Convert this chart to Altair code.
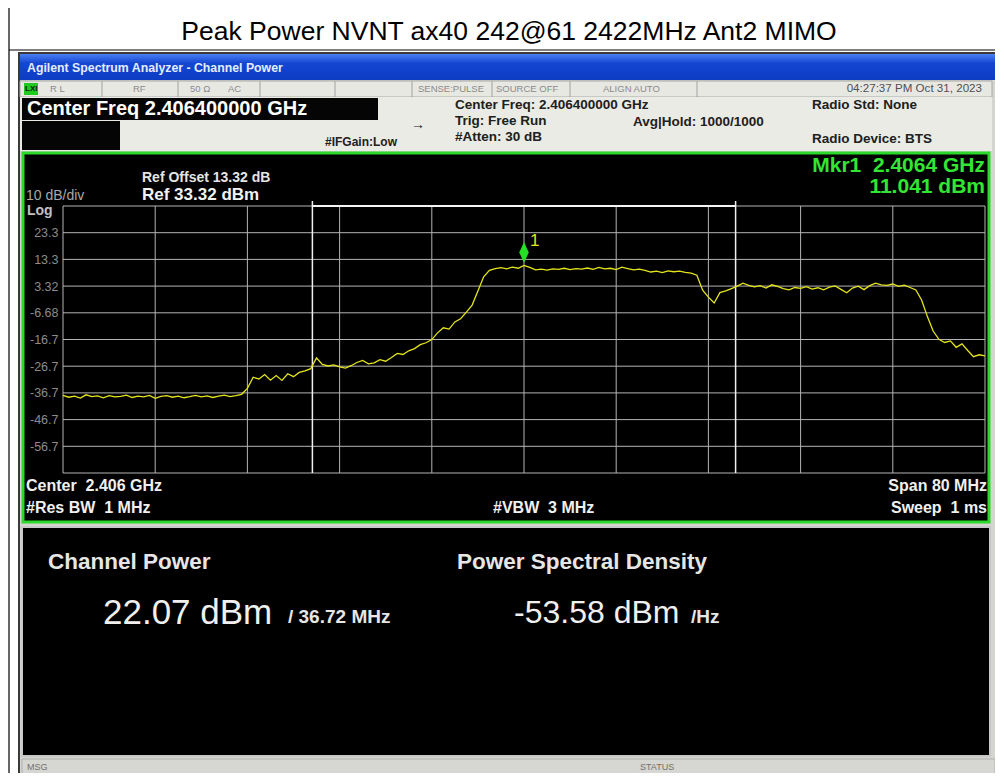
import altair as alt
import pandas as pd

FONT = "Liberation Sans"
NB = "\u00a0"

# ---------------- data ----------------
TITLE = "Peak Power NVNT ax40 242@61 2422MHz Ant2 MIMO"

Y_TICKS = [23.32, 13.32, 3.32, -6.68, -16.68, -26.68, -36.68, -46.68, -56.68]
Y_TICK_LABELS = ["23.3", "13.3", "3.32", "-6.68", "-16.7", "-26.7", "-36.7", "-46.7", "-56.7"]
Y_TOP, Y_BOTTOM = 33.32, -66.68
GRID_DB = [Y_TOP] + Y_TICKS + [Y_BOTTOM]
GRID_MHZ = [-40, -32, -24, -16, -8, 0, 8, 16, 24, 32, 40]

# sweep points: offset from centre (MHz), 0.5 MHz apart
FREQ_MHZ = [i * 0.5 - 40 for i in range(161)]
TRACE_DBM = [
    -37.6, -38.3, -37.9, -38.6, -37.4, -38.1, -37.8, -38.5, -37.7, -38.2,
    -38.0, -37.5, -38.4, -37.9, -38.2, -37.6, -38.7, -38.0, -37.7, -38.3,
    -37.9, -38.5, -38.1, -37.6, -38.2, -37.8, -38.4, -37.9, -37.5, -38.1,
    -37.7, -37.2, -35.0, -30.8, -31.5, -29.8, -31.9, -30.2, -32.0, -29.5,
    -30.6, -29.0, -28.4, -27.6, -23.6, -26.0, -26.6, -26.2, -26.9, -27.4,
    -26.5, -25.3, -24.5, -25.8, -25.4, -24.2, -24.8, -23.4, -21.9, -22.3,
    -20.9, -20.1, -18.6, -17.9, -16.7, -14.2, -12.3, -12.8, -10.1, -8.9,
    -6.4, -3.8, 1.5, 6.8, 9.2, 9.9, 10.2, 9.8, 10.4, 10.0,
    11.04, 10.3, 9.4, 9.7, 9.3, 9.8, 9.6, 10.0, 9.5, 9.9,
    9.7, 10.1, 9.6, 10.3, 9.8, 10.0, 9.5, 10.4, 9.9, 9.4,
    9.7, 9.2, 8.6, 8.9, 8.4, 9.0, 8.7, 8.9, 8.5, 8.2,
    7.4, 1.8, -0.8, -3.0, 0.9, 1.5, 2.4, 3.3, 4.4, 3.6,
    3.0, 3.5, 2.6, 3.8, 3.2, 2.4, 1.9, 2.8, 2.5, 3.1,
    2.2, 2.7, 1.9, 2.9, 3.4, 2.1, 0.8, 2.6, 3.3, 2.0,
    3.5, 4.4, 3.8, 3.6, 4.1, 3.2, 3.7, 2.8, 1.9, -1.9,
    -8.1, -13.5, -16.6, -17.8, -17.2, -19.6, -18.3, -20.8, -23.1, -22.4,
    -22.8,
]
CH_BW_MHZ = 36.72
MKR_MHZ = [0.0]
MKR_DBM = [11.041]

# ---------------- layout helpers ----------------
PX0, PY0 = 63, 206          # plot-area origin on the page
PW, PH = 922, 267           # plot-area size
ONE = pd.DataFrame({"k": [0]})


def X(px):
    return px - PX0


def Y(py):
    return py - PY0


def rect(x1, y1, x2, y2, **kw):
    return alt.Chart(ONE).mark_rect(**kw).encode(
        x=alt.value(X(x1)), x2=alt.value(X(x2)),
        y=alt.value(Y(y1)), y2=alt.value(Y(y2)))


def line(x1, y1, x2, y2, color, width=1):
    return alt.Chart(ONE).mark_rule(color=color, strokeWidth=width).encode(
        x=alt.value(X(x1)), x2=alt.value(X(x2)),
        y=alt.value(Y(y1)), y2=alt.value(Y(y2)))


def text(s, px, py, size, color, weight="normal", align="left", font=FONT):
    return alt.Chart(ONE).mark_text(
        text=s, fontSize=size, color=color, fontWeight=weight,
        align=align, baseline="middle", font=font).encode(
        x=alt.value(X(px)), y=alt.value(Y(py)))


layers = []

# document frame and title
layers.append(line(9, 8, 9, 783, "#000000", 1.2))
layers.append(line(9, 50, 996, 50, "#000000", 1.2))
layers.append(text(TITLE, 509, 32, 26.5, "#000000", align="center"))

# screenshot frame
layers.append(rect(19, 53, 998, 783, fill="#d4d4d0", stroke="#3a3a3a", strokeWidth=2))
blue = alt.Gradient(gradient="linear", x1=0, x2=0, y1=0, y2=1,
                    stops=[alt.GradientStop(color="#4a7ff2", offset=0),
                           alt.GradientStop(color="#1446d2", offset=0.35),
                           alt.GradientStop(color="#0d3cc4", offset=1)])
layers.append(rect(20, 54, 997, 80, fill=blue))
layers.append(text("Agilent Spectrum Analyzer - Channel Power", 27, 68, 12.3, "#e6ecff", "bold"))

# toolbar
layers.append(rect(20, 81, 992, 97, fill="#e8e8e3", stroke="#a8a8a8", strokeWidth=1))
for dx in [102, 178, 260, 335, 412, 492, 570, 697]:
    layers.append(line(dx, 81, dx, 97, "#a0a0a0", 1))
layers.append(rect(24, 83, 38, 95, fill="#22c822"))
layers.append(text("LXI", 25, 89, 8, "#102010", "bold"))
for s, px in [("R L", 50), ("RF", 133), ("50 Ω", 190), ("AC", 228),
              ("SENSE:PULSE", 418), ("SOURCE OFF", 496), ("ALIGN AUTO", 603)]:
    layers.append(text(s, px, 89, 9.5, "#8a8a8a"))
layers.append(text("04:27:37 PM Oct 31, 2023", 982, 89, 11.6, "#505050", align="right"))

# info area
layers.append(rect(20, 97, 992, 151, fill="#ebebe5"))
layers.append(rect(22, 98, 378, 120, fill="#050505"))
layers.append(rect(22, 121, 120, 150, fill="#050505"))
layers.append(text("Center Freq 2.406400000 GHz", 27, 109, 20, "#ffffff", "bold"))
layers.append(text("#IFGain:Low", 325, 142, 12, "#202020", "bold"))
layers.append(text("→", 411, 125, 14, "#202020"))
layers.append(text("Center Freq: 2.406400000 GHz", 455, 105, 13.5, "#202020", "bold"))
layers.append(text("Trig: Free Run", 455, 121, 13.5, "#202020", "bold"))
layers.append(text("#Atten: 30 dB", 455, 137, 13.5, "#202020", "bold"))
layers.append(text("Avg|Hold: 1000/1000", 633, 122, 13.5, "#202020", "bold"))
layers.append(text("Radio Std: None", 812, 105, 13.5, "#202020", "bold"))
layers.append(text("Radio Device: BTS", 812, 139, 13.5, "#202020", "bold"))

# graph area
layers.append(rect(23, 153, 989, 522, fill="#000000", stroke="#2bd82b", strokeWidth=3))

xs = alt.Scale(domain=[-40, 40], nice=False, zero=False)
ys = alt.Scale(domain=[Y_BOTTOM, Y_TOP], nice=False, zero=False)

label_expr = " : ".join(
    f"datum.value > {v - 1} ? '{lab}'" for v, lab in zip(Y_TICKS, Y_TICK_LABELS)) + " : ''"
yaxis = alt.Axis(values=Y_TICKS, labelExpr=label_expr, grid=False, ticks=False, domain=False,
                 labelColor="#8c8c8c", labelFontSize=12.5, labelFont=FONT, labelPadding=5,
                 title=None, zindex=1)

grid_y = alt.Chart(pd.DataFrame({"dbm": GRID_DB})).mark_rule(color="#b4b4b4", strokeWidth=1).encode(
    y=alt.Y("dbm:Q", scale=ys, axis=yaxis))
grid_x = alt.Chart(pd.DataFrame({"f": GRID_MHZ})).mark_rule(color="#b4b4b4", strokeWidth=1).encode(
    x=alt.X("f:Q", scale=xs, axis=None))
layers += [grid_y, grid_x]

bw = pd.DataFrame({"f": [-CH_BW_MHZ / 2, CH_BW_MHZ / 2]})
layers.append(alt.Chart(bw).mark_rule(color="#f0f0f0", strokeWidth=1.5).encode(
    x=alt.X("f:Q", scale=xs, axis=None), y=alt.value(-5), y2=alt.value(PH)))
bw_top = pd.DataFrame({"f1": [-CH_BW_MHZ / 2], "f2": [CH_BW_MHZ / 2]})
layers.append(alt.Chart(bw_top).mark_rule(color="#f4f4f4", strokeWidth=2).encode(
    x=alt.X("f1:Q", scale=xs, axis=None), x2="f2:Q", y=alt.value(0)))

trace = alt.Chart(pd.DataFrame({"f": FREQ_MHZ, "dbm": TRACE_DBM})).mark_line(
    color="#e4e41a", strokeWidth=1.3).encode(
    x=alt.X("f:Q", scale=xs, axis=None),
    y=alt.Y("dbm:Q", scale=ys, axis=yaxis))
layers.append(trace)

mk = pd.DataFrame({"f": MKR_MHZ, "dbm": MKR_DBM})
layers.append(alt.Chart(mk).mark_point(
    shape="M0,-1L0.45,0L0,1L-0.45,0Z", size=440, filled=True, color="#25e025",
    opacity=1, yOffset=-13).encode(
    x=alt.X("f:Q", scale=xs, axis=None), y=alt.Y("dbm:Q", scale=ys, axis=yaxis)))
layers.append(alt.Chart(mk).mark_text(
    text="1", fontSize=17, color="#e4e41a", font=FONT, align="left", dx=6, dy=-24).encode(
    x=alt.X("f:Q", scale=xs, axis=None), y=alt.Y("dbm:Q", scale=ys, axis=yaxis)))

layers.append(text("Ref Offset 13.32 dB", 142, 178, 14, "#e4e4e4", "bold"))
layers.append(text("Ref 33.32 dBm", 142, 195, 17, "#f2f2f2", "bold"))
layers.append(text("10 dB/div", 26, 196, 14, "#a8a8a8"))
layers.append(text("Log", 27, 211, 14, "#c0c0c0", "bold"))
layers.append(text(f"Mkr1{NB}{NB}2.4064 GHz", 985, 166, 21, "#33e633", "bold", align="right"))
layers.append(text("11.041 dBm", 985, 187, 21, "#33e633", "bold", align="right"))
layers.append(text(f"Center{NB}{NB}2.406 GHz", 26, 486, 16, "#f0f0f0", "bold"))
layers.append(text(f"#Res BW{NB}{NB}1 MHz", 26, 508, 16, "#f0f0f0", "bold"))
layers.append(text(f"#VBW{NB}{NB}3 MHz", 493, 508, 16, "#f0f0f0", "bold"))
layers.append(text("Span 80 MHz", 987, 486, 16, "#f0f0f0", "bold", align="right"))
layers.append(text(f"Sweep{NB}{NB}1 ms", 987, 508, 16, "#f0f0f0", "bold", align="right"))

# result panel
layers.append(rect(22, 527, 990, 756, fill="#000000", stroke="#c8c8c8", strokeWidth=2))
layers.append(text("Channel Power", 48, 562, 22.5, "#e6e6e6", "bold"))
layers.append(text("22.07 dBm", 103, 613, 35, "#f0f0f0"))
layers.append(text("/ 36.72 MHz", 288, 617, 19, "#e6e6e6", "bold"))
layers.append(text("Power Spectral Density", 457, 562, 22.5, "#e6e6e6", "bold"))
layers.append(text("-53.58 dBm", 514, 613, 32, "#f0f0f0"))
layers.append(text("/Hz", 691, 617, 19, "#e6e6e6", "bold"))

# status bar
layers.append(rect(22, 759, 995, 783, fill="#d6d6d2", stroke="#b0b0b0", strokeWidth=1))
layers.append(text("MSG", 27, 767, 9, "#707070"))
layers.append(text("STATUS", 640, 767, 9, "#707070"))

chart = alt.layer(*layers).properties(
    width=PW, height=PH,
    autosize=alt.AutoSizeParams(type="none"),
    padding={"left": PX0 - 8, "top": PY0 - 8, "right": 10, "bottom": 300},
    background="#ffffff",
).configure_view(stroke=None)

chart.save("out.html", embed_options={"renderer": "svg", "actions": False})
